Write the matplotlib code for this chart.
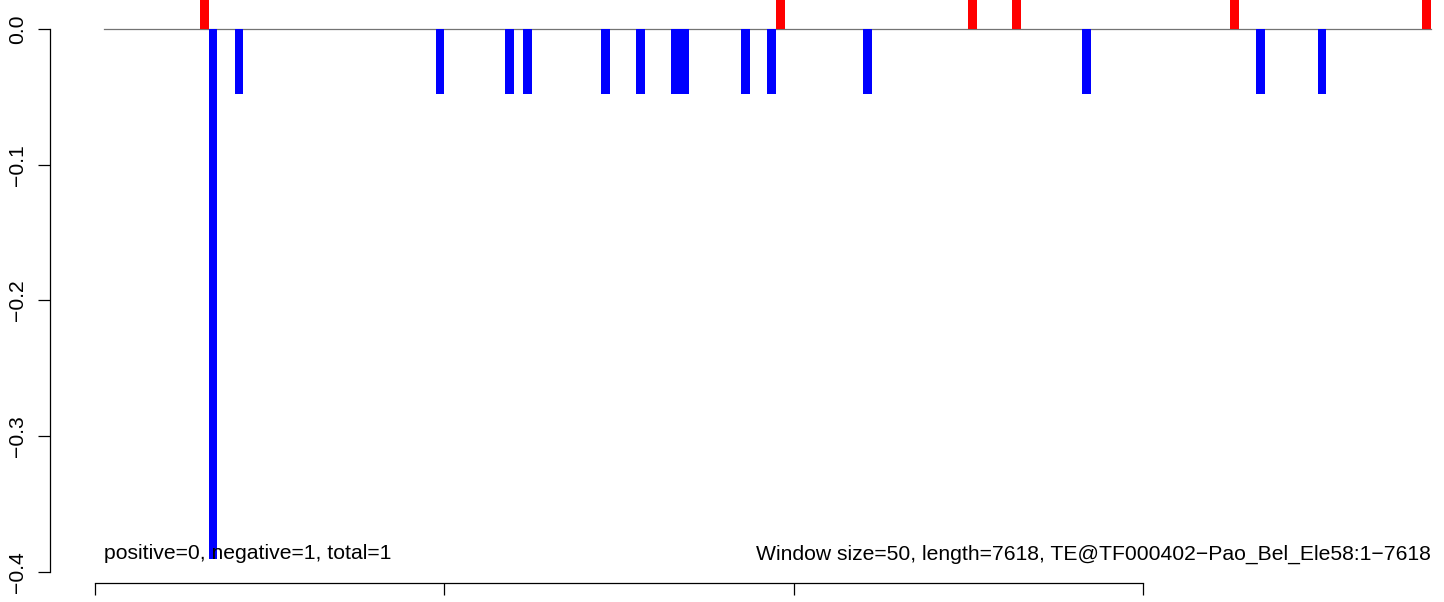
import numpy as np
import matplotlib.pyplot as plt

plt.rcParams['font.family'] = ['Liberation Sans', 'DejaVu Sans']

# window starts (bp) and values
pos_starts = [600, 3900, 5000, 5250, 6500, 7600]
pos_values = [0.048, 0.048, 0.048, 0.048, 0.048, 0.048]
neg_starts = [650, 800, 1950, 2350, 2450, 2900, 3100, 3300, 3350, 3700,
              3850, 4400, 5650, 6650, 7000]
neg_values = [-0.391, -0.048, -0.048, -0.048, -0.048, -0.048, -0.048, -0.048,
              -0.048, -0.048, -0.048, -0.048, -0.048, -0.048, -0.048]
window = 50
seq_len = 7618
xticks = [0, 2000, 4000, 6000]
yticks = [0.0, -0.1, -0.2, -0.3, -0.4]
ylabels = ['0.0', '\u22120.1', '\u22120.2', '\u22120.3', '\u22120.4']
left_note = 'positive=0, negative=1, total=1'
right_note = 'Window size=50, length=7618, TE@TF000402\u2212Pao_Bel_Ele58:1\u22127618'

fig = plt.figure(figsize=(14.44, 6.02), dpi=100)
ax = fig.add_axes([50 / 1444, 18.7 / 602, 1 - 50 / 1444, 1 - 18.7 / 602])

ax.bar(pos_starts, pos_values, width=window, align='edge', color='#ff0000', linewidth=0)
ax.bar(neg_starts, neg_values, width=window, align='edge', color='#0000ff', linewidth=0)
ax.plot([50, 7650], [0, 0], color='0.45', lw=0.9, zorder=0)

fs = 15.25
ax.text(50, -0.391, left_note, ha='left', va='baseline', fontsize=fs)
ax.text(7650, -0.391, right_note, ha='right', va='baseline', fontsize=fs)

ax.set_xlim(-257.7, 7724)
ax.set_ylim(-0.4086, 0.02138)

for s in ['top', 'right']:
    ax.spines[s].set_visible(False)
ax.spines['left'].set_bounds(-0.4, 0.0)
ax.spines['bottom'].set_bounds(0, 6000)
ax.spines['left'].set_linewidth(0.9)
ax.spines['bottom'].set_linewidth(0.9)

ax.set_xticks(xticks)
ax.set_xticklabels([])
ax.set_yticks(yticks)
ax.set_yticklabels(ylabels, rotation=90, va='center')
ax.tick_params(direction='out', length=8.6, width=0.9, labelsize=fs, pad=8)

fig.savefig('out.png', dpi=100)
